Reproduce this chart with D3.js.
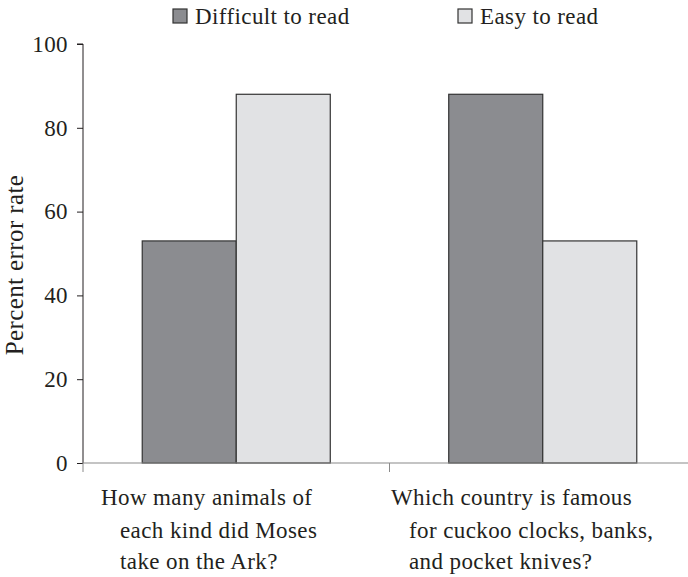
<!DOCTYPE html>
<html><head><meta charset="utf-8">
<script src="https://cdn.jsdelivr.net/npm/d3@7"></script>
<style>body{margin:0;background:#fff}svg{display:block}text{font-family:"Liberation Serif","Times New Roman",Tinos,"DejaVu Serif",serif;fill:#231f20}</style>
</head><body><div id="chart"></div>
<script>
const categories = ["How many animals of|each kind did Moses|take on the Ark?", "Which country is famous|for cuckoo clocks, banks,|and pocket knives?"];
const seriesNames = ["Difficult to read", "Easy to read"];
const difficult = [53, 88];
const easy = [88, 53];
const yTicks = [0, 20, 40, 60, 80, 100];
const colors = ["#8b8c90", "#e1e2e4"];

const W = 688, H = 577;
const FONT = '"Liberation Serif","Times New Roman",Tinos,"DejaVu Serif",serif';
const svg = d3.select("#chart").append("svg").attr("width", W).attr("height", H);
const fs = 23, ls = 0.4;
const x0 = d3.scaleBand().domain(categories).range([83, 696]).paddingInner(0).paddingOuter(0);
const x1 = d3.scaleBand().domain(seriesNames).range([0, x0.bandwidth()]).paddingInner(0).paddingOuter(0.63);
const y = d3.scaleLinear().domain([0, 100]).range([463, 44]);

const data = categories.map((c, i) => ({c, vals: [difficult[i], easy[i]]}));

// y axis
const yAxis = svg.append("g").attr("transform", "translate(83,0)")
  .call(d3.axisLeft(y).tickValues(yTicks).tickSize(6).tickPadding(9));
yAxis.attr("font-family", FONT);
yAxis.select(".domain").attr("stroke", "#231f20").attr("d", "M-6,44H0V463");
yAxis.selectAll(".tick line").attr("stroke", "#231f20");
yAxis.selectAll(".tick text").attr("font-size", fs).attr("letter-spacing", ls).attr("fill", "#231f20");

// bars
const g = svg.append("g");
data.forEach(d => {
  d.vals.forEach((v, j) => {
    g.append("rect")
      .attr("x", x0(d.c) + x1(seriesNames[j]))
      .attr("y", y(v))
      .attr("width", x1.bandwidth())
      .attr("height", y(0) - y(v))
      .attr("fill", colors[j])
      .attr("stroke", "#333")
      .attr("stroke-width", 1.2);
  });
});

// x axis
svg.append("line").attr("x1", 83).attr("x2", 688).attr("y1", y(0)).attr("y2", y(0)).attr("stroke", "#8a8a8a").attr("stroke-width", 1.2);
categories.forEach((c, i) => {
  if (i > 0) {
    svg.append("line").attr("x1", x0(c)).attr("x2", x0(c)).attr("y1", y(0)).attr("y2", y(0) + 9).attr("stroke", "#8a8a8a");
  }
});
svg.append("line").attr("x1", 83).attr("x2", 83).attr("y1", y(0)).attr("y2", y(0) + 9).attr("stroke", "#8a8a8a");

// category labels
const labelX = [[101, 120, 120], [391, 409, 409]];
const baseY = [505, 538, 569];
categories.forEach((c, i) => {
  c.split("|").forEach((line, k) => {
    svg.append("text").attr("x", labelX[i][k]).attr("y", baseY[k]).attr("font-size", fs).attr("letter-spacing", ls).attr("font-family", FONT).text(line);
  });
});

// y label
svg.append("text").attr("transform", "translate(23,265) rotate(-90)").attr("text-anchor", "middle").attr("font-size", 25).attr("letter-spacing", ls).attr("font-family", FONT).text("Percent error rate");

// legend
const legX = [173, 458];
seriesNames.forEach((s, j) => {
  svg.append("rect").attr("x", legX[j]).attr("y", 9).attr("width", 14).attr("height", 14).attr("fill", colors[j]).attr("stroke", "#333").attr("stroke-width", 1.2);
  svg.append("text").attr("x", legX[j] + 22).attr("y", 24).attr("font-size", fs).attr("letter-spacing", ls).attr("font-family", FONT).text(s);
});
</script></body></html>
